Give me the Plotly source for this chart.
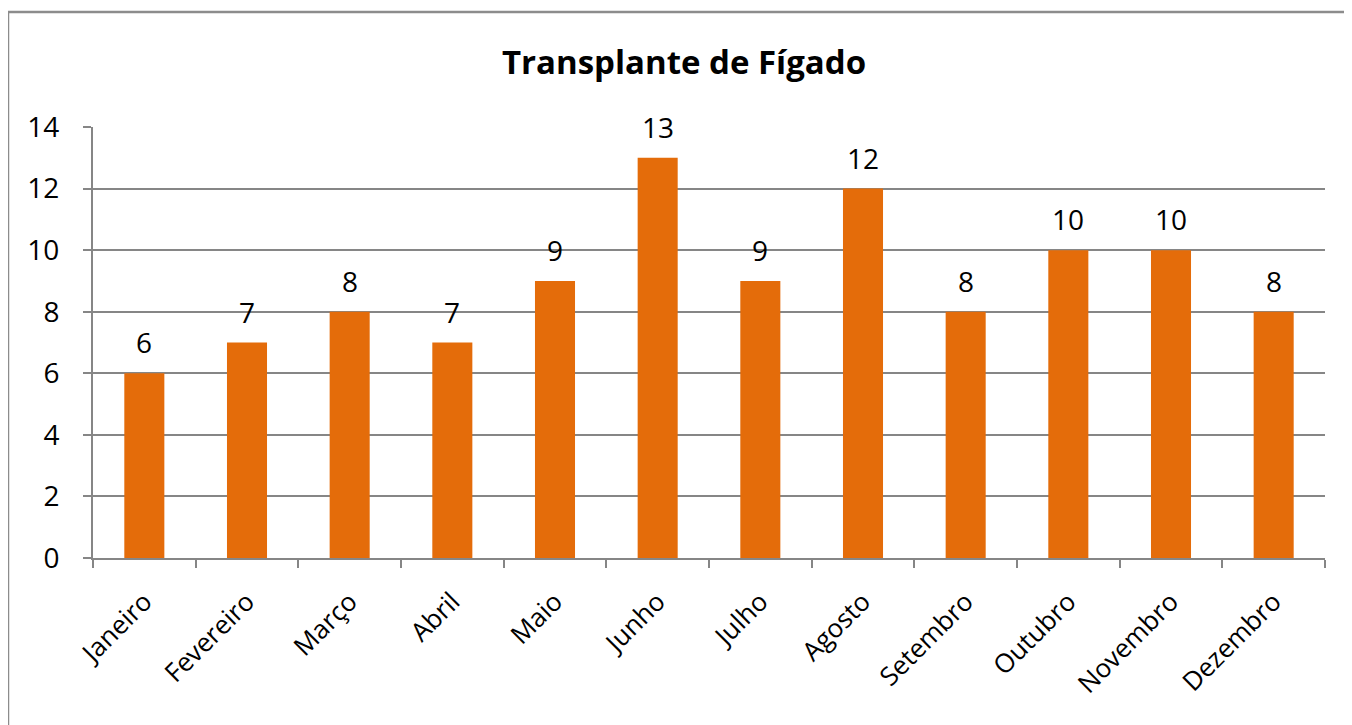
import plotly.graph_objects as go

# dados do gráfico
meses = ['Janeiro', 'Fevereiro', 'Março', 'Abril', 'Maio', 'Junho',
         'Julho', 'Agosto', 'Setembro', 'Outubro', 'Novembro', 'Dezembro']
transplantes = [6, 7, 8, 7, 9, 13, 9, 12, 8, 10, 10, 8]
y_ticks = [0, 2, 4, 6, 8, 10, 12, 14]

fig = go.Figure(go.Bar(
    x=meses,
    y=transplantes,
    marker=dict(color='#E46C0A', line=dict(width=0)),
))

# rótulos de valor acima das barras
for mes, v in zip(meses, transplantes):
    fig.add_annotation(x=mes, y=v, text=str(v), showarrow=False,
                       yanchor='middle', yshift=31,
                       font=dict(size=28, color='black'))

# a página tem margem de 8px no body
fig.update_layout(
    width=1344,
    height=717,
    margin=dict(l=85, r=27, t=119, b=167),
    paper_bgcolor='white',
    plot_bgcolor='white',
    font=dict(family='Open Sans', size=26, color='black'),
    bargap=0.61,
    showlegend=False,
    title=dict(text='<b>Transplante de Fígado</b>', x=0.503, xanchor='center',
               y=0.9247, yanchor='middle', font=dict(size=33, color='black')),
    shapes=[
        dict(type='line', xref='paper', yref='paper', x0=-0.069, x1=1.1,
             y0=1.2668, y1=1.2668, line=dict(color='#8c8c8c', width=2.5)),
        dict(type='line', xref='paper', yref='paper', x0=-0.069, x1=-0.069,
             y0=1.2668, y1=-0.4, line=dict(color='#8c8c8c', width=2.5)),
    ],
)

fig.update_xaxes(
    tickson='boundaries',
    ticks='outside',
    ticklen=8,
    tickwidth=2,
    tickcolor='#868686',
    showline=True,
    linecolor='#868686',
    linewidth=2,
    showgrid=False,
    tickangle=-45,
    ticklabelstandoff=16,
    tickfont=dict(size=26),
)

fig.update_yaxes(
    range=[0, 14],
    tickvals=y_ticks,
    ticks='outside',
    ticklen=8,
    tickwidth=2,
    tickcolor='#868686',
    showline=True,
    linecolor='#868686',
    linewidth=2,
    gridcolor='#868686',
    gridwidth=2,
    zeroline=False,
    ticklabelstandoff=18,
    tickfont=dict(size=28),
)

fig.write_html('out.html')
